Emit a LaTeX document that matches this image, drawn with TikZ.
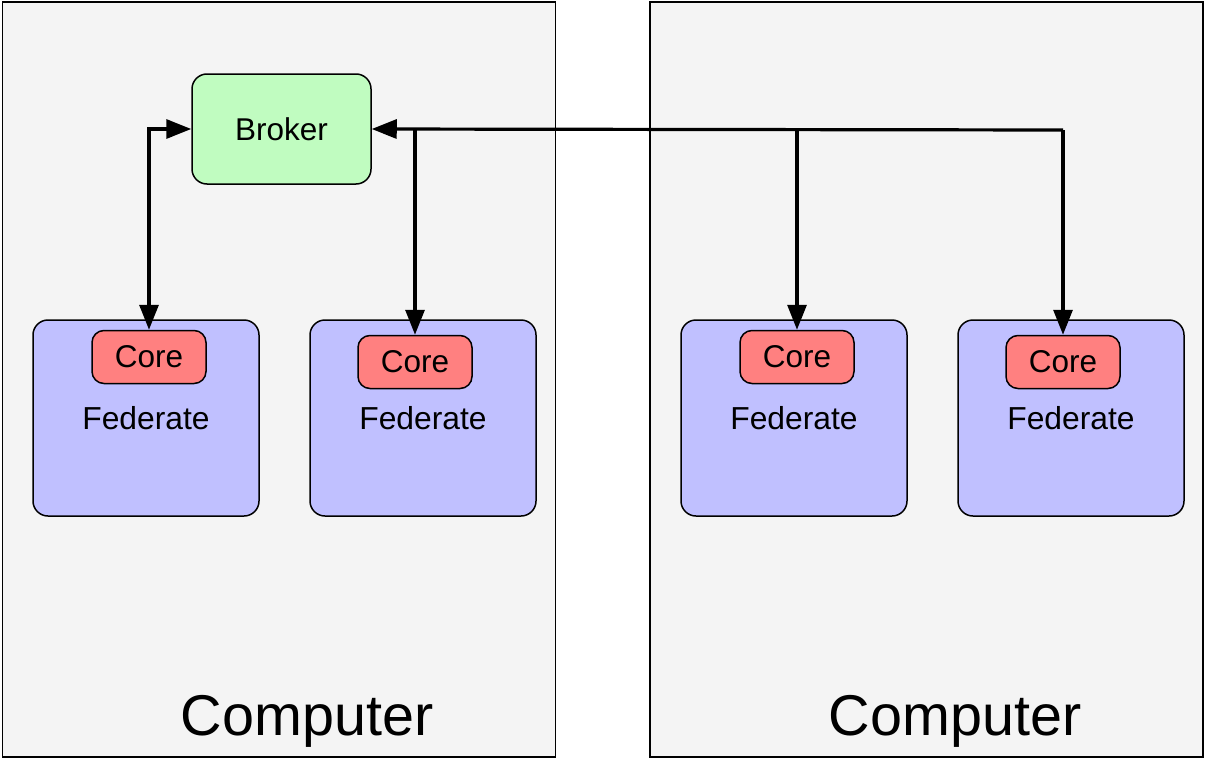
\documentclass[tikz,border=0pt]{standalone}
\usepackage{fontspec}
\setmainfont{Liberation Sans}
\usetikzlibrary{arrows.meta}
\definecolor{compfill}{HTML}{F4F4F4}
\definecolor{brokerfill}{HTML}{C0FCC0}
\definecolor{fedfill}{HTML}{C0C0FF}
\definecolor{corefill}{HTML}{FF8080}
\tikzset{
  computer/.style={draw=black, line width=1.2pt, fill=compfill, minimum width=553pt, minimum height=755pt, inner sep=0pt},
  brokerbox/.style={draw=black, line width=1.5pt, fill=brokerfill, rounded corners=15pt, minimum width=179pt, minimum height=110pt, inner sep=0pt, font=\fontsize{31.5}{36}\selectfont},
  fedbox/.style={draw=black, line width=1.5pt, fill=fedfill, rounded corners=15pt, minimum width=226pt, minimum height=196pt, inner sep=0pt},
  corebox/.style={draw=black, line width=1.5pt, fill=corefill, rounded corners=12pt, minimum width=114pt, minimum height=53pt, inner sep=0pt, font=\fontsize{31.5}{36}\selectfont},
  fedtext/.style={inner sep=0pt, font=\fontsize{31.8}{36}\selectfont},
  comptext/.style={inner sep=0pt, font=\fontsize{57.5}{64}\selectfont},
  conn/.style={line width=3.2pt, draw=black},
  tip/.style={-{Triangle[length=25pt,width=19pt]}},
}
\begin{document}
\begin{tikzpicture}[x=1pt,y=-1pt]
\useasboundingbox (0,0) rectangle (1206,760);
\node[computer] (compL) at (279,379.5) {};
\node[computer] (compR) at (926.5,379.5) {};
\node[brokerbox] (broker) at (281.5,129) {Broker};
\node[fedbox] (fed1) at (146,418) {};
\node[fedbox] (fed2) at (423,418) {};
\node[fedbox] (fed3) at (794,418) {};
\node[fedbox] (fed4) at (1071,418) {};
\node[corebox] (core1) at (149,357) {Core};
\node[corebox] (core2) at (415,362) {Core};
\node[corebox] (core3) at (797,357) {Core};
\node[corebox] (core4) at (1063,362) {Core};
\node[fedtext] (ft1) at (146,418) {Federate};
\node[fedtext] (ft2) at (423,418) {Federate};
\node[fedtext] (ft3) at (794,418) {Federate};
\node[fedtext] (ft4) at (1071,418) {Federate};
\node[comptext] (ct1) at (307,721) {Computer};
\node[comptext] (ct2) at (955,721) {Computer};
\coordinate (hub) at (1063,130);
\draw[conn, {Triangle[length=25pt,width=19pt]}-{Triangle[length=25pt,width=19pt]}] (broker.west) -| (core1.north);
\draw[conn, tip] (hub) -- (broker.east);
\draw[conn, tip] (hub) -- (core4.north);
\draw[conn, tip] (broker.east -| core2.north) -- (core2.north);
\draw[conn, tip] (broker.east -| core3.north) -- (core3.north);
\end{tikzpicture}
\end{document}
